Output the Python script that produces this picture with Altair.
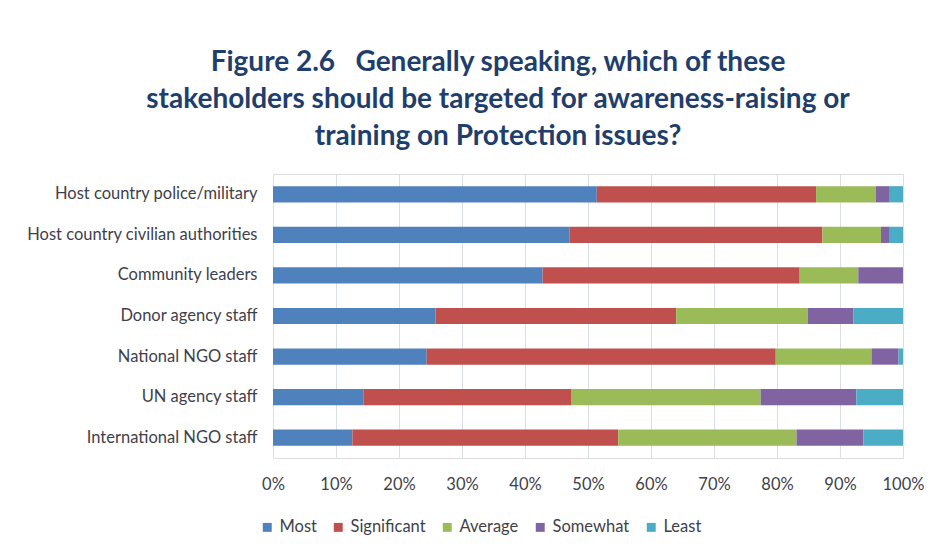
import altair as alt
import pandas as pd

stakeholders = [
    "Host country police/military",
    "Host country civilian authorities",
    "Community leaders",
    "Donor agency staff",
    "National NGO staff",
    "UN agency staff",
    "International NGO staff",
]
levels = ["Most", "Significant", "Average", "Somewhat", "Least"]
colors = ["#4F81BD", "#C0504D", "#9BBB59", "#8064A2", "#4BACC6"]

most = [51.4, 47.1, 42.8, 25.8, 24.4, 14.4, 12.6]
significant = [34.8, 40.1, 40.8, 38.2, 55.4, 33.0, 42.2]
average = [9.5, 9.3, 9.3, 20.9, 15.2, 30.0, 28.3]
somewhat = [2.2, 1.4, 7.1, 7.2, 4.3, 15.2, 10.6]
least = [2.1, 2.1, 0.0, 7.9, 0.7, 7.4, 6.3]

series = [most, significant, average, somewhat, least]
rows = []
for li, (lvl, vals) in enumerate(zip(levels, series)):
    for s, v in zip(stakeholders, vals):
        rows.append({"Stakeholder": s, "Level": lvl, "Share": v / 100.0, "idx": li})
df = pd.DataFrame(rows)

FONT = "Lato"
TXT = "#3F3F4A"
FS = 16.5

chart = (
    alt.Chart(df)
    .mark_bar()
    .encode(
        x=alt.X(
            "Share:Q",
            stack="normalize",
            scale=alt.Scale(domain=[0, 1]),
            axis=alt.Axis(
                format="%",
                values=[i / 10 for i in range(11)],
                title=None,
                domain=False,
                ticks=False,
                labelFlush=False,
                labelPadding=18,
                labelFontSize=FS,
                labelFont=FONT,
                labelColor=TXT,
                gridColor="#D9DEE8",
                gridWidth=1,
            ),
        ),
        y=alt.Y(
            "Stakeholder:N",
            sort=stakeholders,
            scale=alt.Scale(paddingInner=0.6, paddingOuter=0.3),
            axis=alt.Axis(
                title=None,
                domain=False,
                ticks=False,
                labelPadding=16,
                labelLimit=400,
                labelFontSize=FS,
                labelFont=FONT,
                labelColor=TXT,
            ),
        ),
        color=alt.Color(
            "Level:N",
            sort=levels,
            scale=alt.Scale(domain=levels, range=colors),
            legend=alt.Legend(
                title=None,
                orient="none",
                direction="horizontal",
                legendX=-14,
                legendY=345,
                symbolType="square",
                symbolSize=80,
                symbolStrokeWidth=0,
                labelFontSize=FS,
                labelFont=FONT,
                labelColor=TXT,
                columnPadding=13,
                labelOffset=4,
            ),
        ),
        order=alt.Order("idx:Q", sort="ascending"),
    )
    .properties(
        width=630,
        height=284,
        padding={"left": 265, "top": 166, "right": 25, "bottom": 90},
        autosize=alt.AutoSizeParams(type="none"),
        title=alt.TitleParams(
            text=[
                "Figure 2.6\u00a0\u00a0\u00a0Generally speaking, which of these",
                "stakeholders should be targeted for awareness-raising or",
                "training on Protection issues?",
            ],
            anchor="middle",
            dx=-90,
            offset=23,
            font=FONT,
            fontSize=28,
            fontWeight="bold",
            color="#1F3E6C",
            lineHeight=37,
        ),
    )
    .configure_view(stroke=None)
    .configure(background="white")
)

chart.save("out.html", embed_options={"renderer": "svg", "actions": False})
